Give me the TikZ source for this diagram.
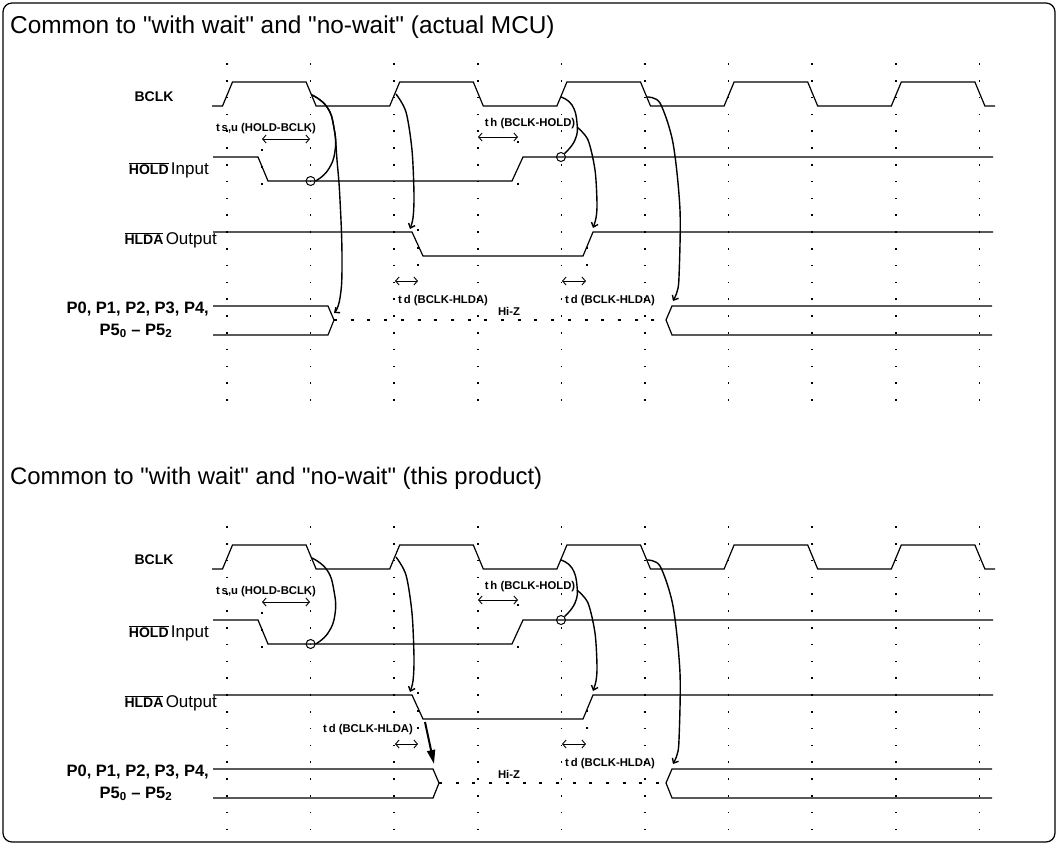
\documentclass[tikz,border=0pt]{standalone}
\usepackage{fontspec}
\setmainfont{Liberation Sans}
\newfontfamily\ttlfont{Liberation Sans}[Ligatures=Common]
\usetikzlibrary{arrows.meta}
\newcommand\wavepanel[2]{%
  % dotted grid
  \foreach \i in {0,...,9}{\foreach \k in {0,...,#2}{%
    \fill ({227+83.6*\i-0.8},{64+16.8*\k-0.8}) rectangle ++(1.6,1.6);}}
  \foreach \p in {(262,150),(262,167),(262,184),(518,142),(518,184),(418,230),(418,248),(418,265),(587,248),(587,265)}{%
    \fill \p ++(-0.8,-0.8) rectangle ++(1.6,1.6);}
  % signal labels
  \node[sig] (#1bclk) at (154,97) {BCLK};
  \node[sig,anchor=east] (#1hold) at (209,170) {$\overline{\mbox{\bfseries HOLD}}$\,{\fontsize{17}{17}\selectfont\mdseries Input}};
  \node[sig,anchor=east] (#1hlda) at (217,240) {$\overline{\mbox{\bfseries HLDA}}$\,{\fontsize{17}{17}\selectfont\mdseries Output}};
  \node[psig,anchor=east] (#1pa) at (209,309) {P0,\ P1,\ P2,\ P3,\ P4,};
  \node[psig] (#1pb) at (136,331) {P5\textsubscript{0} -- P5\textsubscript{2}};
  % waveforms
  \draw[wave] (212,106) -- (222.5,106) -- (232.5,82) -- (306.1,82) -- (316.1,106) -- (389.7,106) -- (399.7,82) -- (473.3,82) -- (483.3,106) -- (556.9,106) -- (566.9,82) -- (640.5,82) -- (650.5,106) -- (724.1,106) -- (734.1,82) -- (807.7,82) -- (817.7,106) -- (891.3,106) -- (901.3,82) -- (974.9,82) -- (984.9,106) -- (995,106);
  \draw[wave] (213,157) -- (258,157) -- (268,181) -- (512,181) -- (523,157) -- (993,157);
  \draw[wave] (213,232) -- (412,232) -- (423,256) -- (583,256) -- (593,232) -- (993,232);
  \draw[wave] (992,306) -- (672,306) -- (666,320) -- (672,335) -- (992,335);
  \coordinate (#1zR) at (666,320);
  % sampling circles
  \node[ring] (#1c1) at (310.6,181) {};
  \node[ring] (#1c2) at (561,157) {};
  % causal curves
  \draw[curv] plot[smooth,tension=0.8] coordinates {(312,95) (327,107) (334,128) (335,151) (328,170) (#1c1.east)};
  \draw[arr] plot[smooth] coordinates {(396,94) (406,112) (412,150) (414,195) (413,218) (410,229)};
  \draw[curv] plot[smooth,tension=0.8] coordinates {(561,97) (572,105) (577,123) (575,140) (#1c2.north east)};
  \draw[arr] plot[smooth] coordinates {(577,127) (588,140) (595,170) (597,203) (596,218) (593,228)};
  \draw[arr] plot[smooth] coordinates {(647,97) (660,103) (673,143) (680,210) (679,277) (677,292) (673,301)};
  % timing marks
  \draw[darr] (262,139) -- (310,139);
  \node[tim] (#1tsu) at (266,129) {t\,s,u (HOLD-BCLK)};
  \draw[darr] (478,137) -- (518,137);
  \node[tim] (#1th) at (530,124) {t\,h (BCLK-HOLD)};
  \draw[darr] (395,281) -- (418,281);
  \draw[darr] (562,281) -- (586,281);
  \node[tim,anchor=west] (#1tdb) at (565,301) {t\,d (BCLK-HLDA)};
  \node[tim] (#1hiz) at (509,311) {Hi-Z};
}
\begin{document}
\begin{tikzpicture}[x=1pt,y=-1pt,
  wave/.style={line width=1.2pt},
  curv/.style={line width=1.4pt},
  arr/.style={curv,-{Straight Barb[length=4pt,width=7pt]}},
  darr/.style={line width=0.9pt,{Straight Barb[length=3.5pt,width=8pt]}-{Straight Barb[length=3.5pt,width=8pt]}},
  hiz/.style={line width=1.3pt,dash pattern=on 3pt off 13.7pt},
  sig/.style={font=\fontsize{14}{14}\selectfont\bfseries,inner sep=0pt},
  psig/.style={font=\fontsize{16.5}{16.5}\selectfont\bfseries,inner sep=0pt},
  tim/.style={font=\fontsize{11.3}{11.3}\selectfont\bfseries,inner sep=0pt},
  ttl/.style={inner sep=0pt,anchor=base west},
  ring/.style={draw,circle,line width=1pt,minimum size=9pt,inner sep=0pt}
]
\useasboundingbox (0,0) rectangle (1058,845);
\draw[line width=1.2pt,rounded corners=9pt] (3,3) rectangle (1055,842);
\node[ttl,font=\ttlfont\fontsize{24.4}{24.4}\selectfont] (title1) at (10,34) {Common to "with wait" and "no-wait" (actual MCU)};
\node[ttl,font=\ttlfont\fontsize{23.9}{23.9}\selectfont] (title2) at (10,484) {Common to "with wait" and "no-wait" (this product)};
% ---- top panel
\begin{scope}
  \wavepanel{t}{20}
  \draw[wave] (213,306) -- (328,306) -- (334,320) -- (328,335) -- (213,335);
  \coordinate (tzL) at (334,320);
  \draw[hiz] (tzL) -- (tzR);
  \node[tim,anchor=west] (ttda) at (398,301) {t\,d (BCLK-HLDA)};
  \draw[arr] plot[smooth,tension=0.8] coordinates {(312,95) (327,107) (334,128) (337,160) (340,200) (342,260) (340,298) (334,313)};
\end{scope}
% ---- bottom panel
\begin{scope}[yshift=-463pt]
  \wavepanel{b}{18}
  \draw[wave] (213,306) -- (433,306) -- (439,320) -- (433,335) -- (213,335);
  \coordinate (bzL) at (439,320);
  \draw[hiz] (bzL) -- (bzR);
  \node[tim] (btda) at (368,267) {t\,d (BCLK-HLDA)};
  \coordinate (bhf) at (425,259);
  \coordinate (bpz) at (434,301);
  \draw[line width=2pt,-{Triangle[length=14pt,width=8pt]}] (bhf) -- (bpz);
\end{scope}
\end{tikzpicture}
\end{document}
